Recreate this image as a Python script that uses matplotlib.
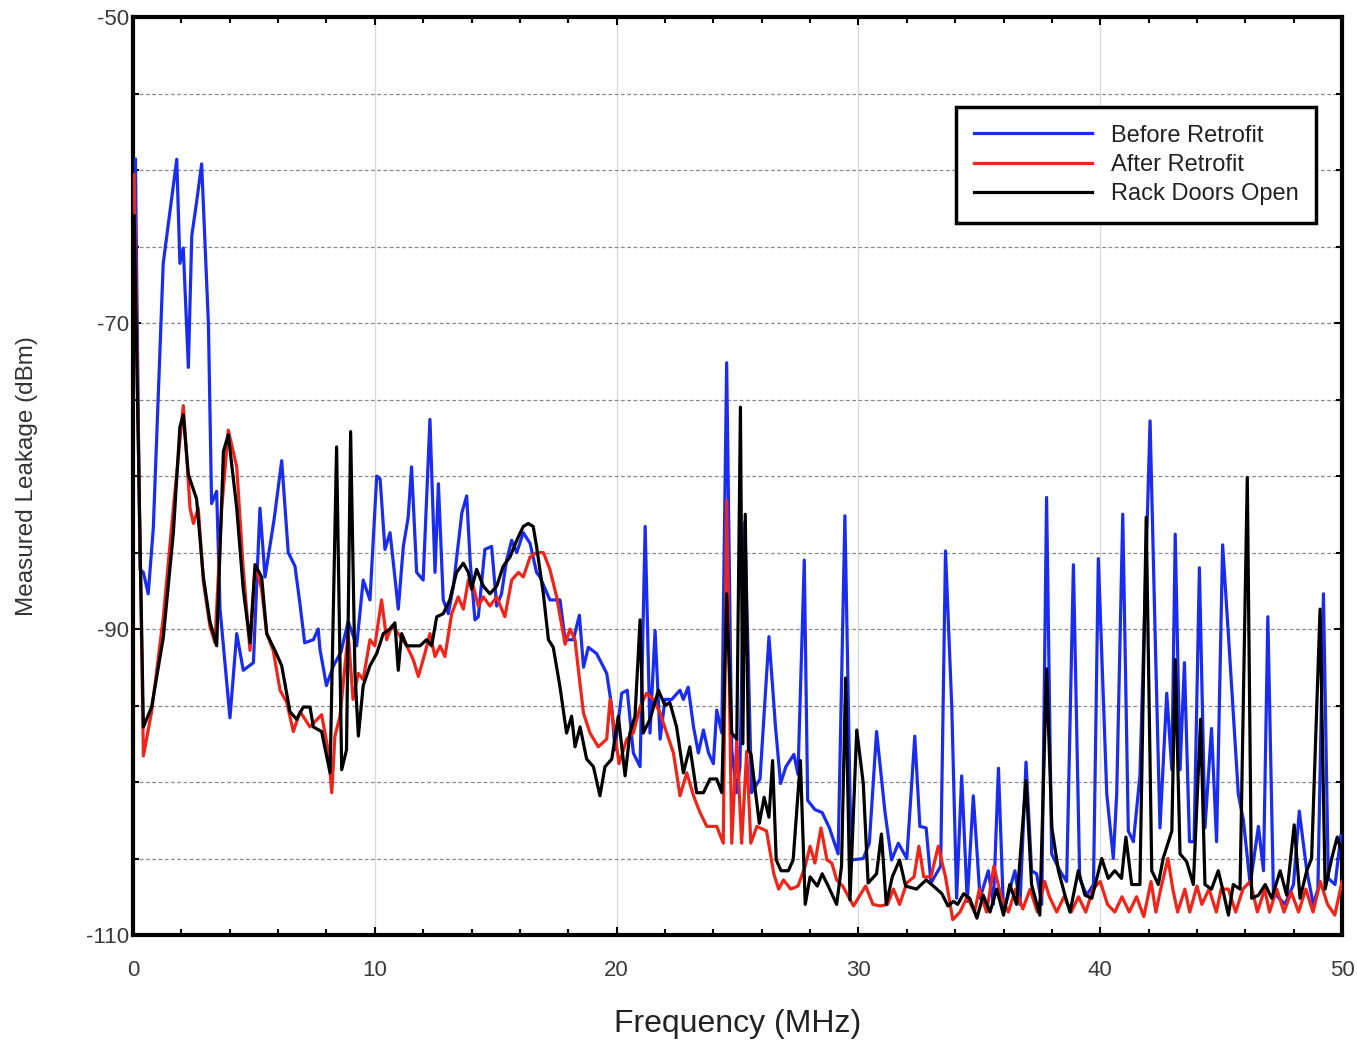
import matplotlib
matplotlib.use("Agg")
import matplotlib.pyplot as plt
from matplotlib.ticker import MultipleLocator, FixedLocator

plt.rcParams['axes.unicode_minus'] = False

# ---- Data (MHz, dBm) --------------------------------------------------
before_freq = [0.1, 0.29, 0.43, 0.63, 0.84, 1.25, 1.53, 1.81, 1.94, 2.08, 2.29, 2.43,
               2.63, 2.84, 3.12, 3.25, 3.46, 3.6, 4.01, 4.29, 4.56, 4.98, 5.25, 5.46,
               5.83, 6.15, 6.42, 6.7, 6.9, 7.1, 7.46, 7.66, 7.73, 8.0, 8.29, 8.6, 8.9,
               9.25, 9.52, 9.8, 10.08, 10.22, 10.42, 10.63, 10.83, 10.97, 11.18, 11.38,
               11.52, 11.73, 12.0, 12.28, 12.49, 12.63, 12.83, 13.04, 13.25, 13.6, 13.8,
               13.94, 14.14, 14.28, 14.55, 14.83, 15.04, 15.24, 15.45, 15.66, 15.87,
               16.14, 16.42, 16.69, 16.83, 17.24, 17.66, 17.87, 18.21, 18.46, 18.63,
               18.83, 19.17, 19.59, 19.8, 19.93, 20.21, 20.44, 20.69, 20.97, 21.18,
               21.38, 21.59, 21.8, 22.0, 22.28, 22.62, 22.76, 22.96, 23.18, 23.38,
               23.59, 23.8, 24.0, 24.14, 24.35, 24.55, 24.76, 24.97, 25.1, 25.3, 25.58,
               25.93, 26.3, 26.57, 26.78, 27.0, 27.33, 27.5, 27.76, 27.9, 28.2, 28.5,
               28.8, 29.16, 29.44, 29.7, 30.2, 30.45, 30.75, 31.1, 31.37, 31.65, 32.0,
               32.33, 32.54, 32.8, 33.0, 33.4, 33.6, 33.86, 34.06, 34.27, 34.5, 34.75,
               35.03, 35.37, 35.58, 35.79, 36.0, 36.47, 36.68, 36.93, 37.16, 37.37,
               37.58, 37.78, 37.99, 38.33, 38.61, 38.89, 39.15, 39.44, 39.72, 39.92,
               40.27, 40.54, 40.68, 40.93, 41.16, 41.37, 41.64, 42.06, 42.27, 42.47,
               42.75, 42.96, 43.1, 43.3, 43.48, 43.69, 43.88, 44.1, 44.33, 44.6, 44.81,
               45.06, 45.3, 45.71, 45.92, 46.2, 46.54, 46.75, 46.93, 47.16, 47.64,
               47.99, 48.23, 48.54, 48.81, 49.0, 49.23, 49.43, 49.71, 49.95]
before_level = [-59.3, -86.1, -86.3, -87.7, -83.4, -66.1, -62.7, -59.3, -66.1, -65.1, -72.9, -64.3,
                -62.1, -59.6, -70.1, -81.8, -81.0, -88.7, -95.8, -90.3, -92.7, -92.2, -82.1, -86.6,
                -82.9, -79.0, -85.0, -85.9, -88.3, -90.9, -90.7, -90.0, -91.3, -93.7, -92.4, -91.5, -89.5,
                -91.1, -86.8, -88.1, -80.0, -80.2, -84.8, -83.7, -86.6, -88.7, -84.6, -82.7,
                -79.4, -86.3, -86.8, -76.3, -86.3, -80.5, -88.1, -89.0, -87.2, -82.4, -81.3,
                -85.5, -89.4, -89.2, -84.8, -84.6, -88.5, -87.7, -85.5, -84.2, -85.0,
                -83.7, -84.4, -86.3, -86.6, -88.1, -88.1, -90.7, -90.7, -89.1, -92.5,
                -91.2, -91.6, -92.9, -95.1, -97.9, -94.2, -94.0, -98.1, -99.0, -83.3,
                -96.8, -90.1, -97.2, -94.6, -94.6, -94.0, -94.6, -93.8, -96.4, -98.1,
                -96.6, -98.1, -98.8, -95.3, -96.8, -72.6, -97.9, -100.7, -99.0, -83.0, -100.7,
                -99.8, -90.5, -96.4, -100.1, -99.0, -98.2, -99.5, -85.5, -101.2, -101.8, -102.0,
                -103.0, -104.7, -82.6, -105.1, -105.0, -104.0, -96.7, -102.0, -105.1, -104.0, -105.0,
                -97.0, -102.9, -103.0, -106.6, -105.5, -84.9, -95.1, -107.6, -99.6, -107.8, -100.9,
                -107.6, -105.8, -108.0, -99.1, -108.5, -105.8, -108.0, -98.7, -105.8, -106.0,
                -108.0, -81.4, -104.7, -105.8, -106.5, -85.8, -106.3, -107.4, -106.7, -85.4,
                -100.8, -105.0, -100.8, -82.5, -103.2, -103.9, -99.6, -76.4, -90.4, -103.0,
                -94.2, -99.2, -83.8, -99.2, -92.2, -103.9, -103.9, -86.0, -103.0, -96.5, -103.9,
                -84.5, -90.4, -100.8, -102.5, -106.7, -102.9, -105.8, -89.2, -107.2, -108.0,
                -106.7, -101.9, -105.8, -108.0, -107.0, -87.7, -106.3, -106.7, -103.5]

after_freq = [0.05, 0.43, 0.77, 1.25, 1.67, 2.08, 2.36, 2.5, 2.7, 2.91, 3.18, 3.39, 3.67,
              3.94, 4.29, 4.56, 4.84, 5.05, 5.32, 5.53, 5.8, 6.08, 6.36, 6.63, 6.91, 7.32,
              7.8, 8.08, 8.22, 8.35, 8.56, 8.9, 9.1, 9.32, 9.52, 9.8, 10.0, 10.28, 10.49,
              10.7, 10.97, 11.32, 11.59, 11.8, 12.07, 12.28, 12.49, 12.7, 12.9, 13.18,
              13.45, 13.66, 13.87, 14.07, 14.28, 14.49, 14.76, 15.04, 15.38, 15.66, 15.94,
              16.14, 16.42, 16.69, 16.97, 17.24, 17.52, 17.87, 18.07, 18.28, 18.42, 18.63,
              18.9, 19.24, 19.59, 19.73, 20.1, 20.42, 20.69, 20.97, 21.24, 21.52, 21.8,
              22.07, 22.35, 22.62, 22.9, 23.18, 23.45, 23.73, 24.14, 24.41, 24.55, 24.76,
              24.97, 25.17, 25.38, 25.55, 25.8, 26.2, 26.5, 26.7, 26.9, 27.2, 27.5, 27.8,
              28.0, 28.2, 28.45, 28.7, 28.9, 29.1, 29.35, 29.8, 30.1, 30.3, 30.6, 30.9,
              31.2, 31.45, 31.7, 32.0, 32.3, 32.5, 32.7, 33.0, 33.3, 33.6, 33.9, 34.2,
              34.5, 34.8, 35.0, 35.3, 35.6, 35.9, 36.2, 36.5, 36.8, 37.1, 37.4, 37.7,
              37.9, 38.2, 38.5, 38.8, 39.1, 39.4, 39.7, 40.0, 40.3, 40.6, 40.9, 41.2,
              41.5, 41.8, 42.1, 42.3, 42.5, 42.8, 43.0, 43.2, 43.5, 43.7, 44.0, 44.2,
              44.5, 44.8, 45.0, 45.3, 45.6, 45.9, 46.2, 46.5, 46.8, 47.0, 47.3, 47.6,
              47.9, 48.2, 48.5, 48.8, 49.1, 49.4, 49.7, 50.0]
after_level = [-60.3, -98.3, -95.4, -89.3, -82.1, -75.4, -82.1, -83.1, -82.1, -86.9, -89.8, -90.9, -82.1,
               -77.0, -79.4, -86.1, -91.4, -85.8, -87.4, -90.3, -91.4, -94.0, -94.8, -96.7, -95.4, -96.4,
               -95.6, -98.0, -100.7, -97.0, -95.7, -90.3, -94.6, -92.9, -93.3, -90.7, -91.1, -88.1, -90.7,
               -89.8, -90.3, -91.1, -92.0, -93.1, -91.6, -90.3, -91.8, -91.1, -91.8, -89.0,
               -87.9, -88.7, -86.8, -87.2, -88.5, -87.9, -88.5, -87.9, -89.2, -86.8, -86.3,
               -86.6, -85.3, -85.0, -85.0, -86.1, -87.9, -91.0, -90.0, -90.7, -92.7, -95.5,
               -96.8, -97.7, -97.2, -94.6, -98.8, -97.2, -96.8, -95.1, -94.2, -94.6, -95.5,
               -96.8, -98.1, -100.9, -99.4, -100.9, -102.0, -102.9, -102.9, -104.0, -81.6, -104.0,
               -97.2, -104.0, -98.0, -104.0, -102.9, -103.2, -106.0, -107.0, -106.4, -107.0, -106.8, -105.5,
               -104.2, -105.3, -103.0, -105.1, -105.3, -106.4, -106.8, -108.1, -107.3, -106.8, -108.0, -108.1,
               -108.0, -107.0, -108.0, -106.6, -106.2, -104.2, -106.2, -106.2, -104.2, -106.2, -109.0, -108.5,
               -107.5, -108.5, -107.0, -108.5, -105.5, -107.5, -108.5, -107.0, -108.3, -107.0, -108.5, -106.5,
               -107.5, -108.5, -107.5, -108.5, -107.5, -108.5, -107.0, -106.5, -108.0, -108.5, -107.5, -108.5,
               -107.5, -108.8, -106.5, -108.5, -107.0, -105.0, -107.0, -108.5, -107.0, -108.5, -106.8, -108.0,
               -107.0, -108.5, -107.0, -107.0, -108.5, -107.0, -106.5, -108.5, -107.0, -108.5, -107.0, -108.5,
               -107.2, -108.5, -107.0, -108.5, -106.5, -108.0, -108.7, -106.5]

doors_freq = [0.05, 0.43, 0.77, 1.25, 1.67, 1.94, 2.08, 2.29, 2.63, 2.91, 3.18, 3.46, 3.74,
              3.94, 4.29, 4.56, 4.84, 5.05, 5.32, 5.53, 5.87, 6.15, 6.49, 6.77, 7.04, 7.32,
              7.46, 7.8, 8.15, 8.42, 8.63, 8.83, 9.0, 9.18, 9.32, 9.52, 9.8, 10.08, 10.35,
              10.63, 10.83, 10.97, 11.11, 11.32, 11.59, 11.87, 12.14, 12.35, 12.56, 12.83,
              13.1, 13.38, 13.66, 13.87, 14.0, 14.21, 14.49, 14.76, 15.04, 15.31, 15.59,
              15.87, 16.14, 16.35, 16.55, 16.69, 16.97, 17.18, 17.38, 17.66, 17.93, 18.14,
              18.28, 18.49, 18.76, 19.04, 19.31, 19.52, 19.8, 20.07, 20.35, 20.55, 20.76,
              20.97, 21.1, 21.38, 21.73, 22.0, 22.2, 22.48, 22.76, 23.03, 23.31, 23.59,
              23.86, 24.14, 24.35, 24.55, 24.76, 24.97, 25.12, 25.22, 25.32, 25.45, 25.56,
              25.7, 25.9, 26.1, 26.3, 26.45, 26.6, 26.8, 27.1, 27.3, 27.6, 27.8, 28.0,
              28.3, 28.5, 28.75, 29.1, 29.3, 29.47, 29.65, 29.93, 30.2, 30.4, 30.75, 30.95,
              31.15, 31.4, 31.7, 31.95, 32.4, 32.8, 33.1, 33.45, 33.7, 33.93, 34.1, 34.35,
              34.6, 34.9, 35.16, 35.44, 35.72, 36.0, 36.26, 36.54, 36.93, 37.16, 37.5,
              37.78, 38.0, 38.27, 38.54, 38.75, 39.09, 39.37, 39.65, 40.06, 40.33, 40.6,
              40.88, 41.06, 41.3, 41.64, 41.9, 42.13, 42.4, 42.6, 42.96, 43.1, 43.3,
              43.57, 43.85, 44.15, 44.33, 44.6, 44.88, 45.09, 45.3, 45.5, 45.78, 46.08,
              46.26, 46.54, 46.82, 47.09, 47.44, 47.71, 48.02, 48.26, 48.54, 48.74, 49.09,
              49.3, 49.57, 49.8, 49.97]
doors_level = [-63.0, -96.4, -95.1, -90.6, -83.7, -76.8, -76.0, -79.9, -81.5, -86.6, -89.5, -91.1, -78.4,
               -77.3, -82.1, -87.4, -90.9, -85.8, -86.6, -90.3, -91.4, -92.4, -95.4, -95.9, -95.1, -95.1,
               -96.4, -96.7, -99.4, -78.1, -99.2, -97.9, -77.1, -92.9, -97.0, -93.7, -92.4, -91.6, -90.3,
               -90.0, -89.6, -92.7, -90.3, -91.1, -91.1, -91.1, -90.7, -91.1, -89.2, -89.0,
               -88.1, -86.3, -85.7, -86.3, -87.4, -86.1, -87.2, -87.7, -87.2, -85.9, -85.3,
               -84.2, -83.3, -83.1, -83.3, -84.6, -87.7, -90.7, -91.2, -93.8, -96.8, -95.7,
               -97.7, -96.4, -98.5, -99.0, -100.9, -99.0, -98.5, -95.7, -99.6, -96.8, -95.7,
               -89.4, -96.8, -95.9, -94.0, -95.0, -94.8, -96.4, -99.4, -97.7, -100.7, -100.7,
               -99.8, -99.8, -100.7, -87.7, -96.8, -97.2, -75.5, -97.5, -82.5, -97.9, -98.2,
               -100.1, -102.7, -101.0, -102.3, -98.6, -105.1, -105.8, -105.8, -105.1, -98.6, -108.0, -106.2,
               -106.8, -106.0, -106.8, -108.0, -105.5, -93.2, -107.7, -96.6, -100.1, -106.6, -106.0, -103.4,
               -108.0, -106.2, -105.1, -106.8, -107.0, -106.4, -106.8, -107.3, -108.1, -107.8, -108.0, -107.3,
               -107.6, -108.9, -107.4, -108.5, -107.0, -108.7, -106.7, -108.0, -99.9, -106.7, -108.7,
               -92.6, -103.0, -105.8, -107.4, -108.5, -105.8, -107.4, -107.6, -105.0, -106.3, -105.8,
               -106.3, -103.6, -106.7, -106.7, -82.7, -105.8, -106.7, -105.0, -103.2, -92.0, -104.7,
               -105.2, -106.7, -95.9, -106.7, -107.0, -105.8, -107.2, -108.7, -106.7, -107.0, -80.1,
               -107.6, -107.4, -106.7, -107.6, -105.8, -107.4, -102.8, -107.6, -105.8, -105.0, -88.7,
               -107.0, -105.0, -103.6, -104.5]

series_labels = ["Before Retrofit", "After Retrofit", "Rack Doors Open"]
series_colors = ["#1a2cf0", "#f02418", "#000000"]
y_label_ticks = [-110, -90, -70, -50]

# ---- Plot ---------------------------------------------------------------
fig = plt.figure(figsize=(13.57, 10.44), dpi=100)
ax = fig.add_axes([0.098, 0.1044, 0.891, 0.8793])

for fx, lv, lab, col in zip([before_freq, after_freq, doors_freq],
                            [before_level, after_level, doors_level],
                            series_labels, series_colors):
    ax.plot(fx, lv, color=col, linewidth=2.3, label=lab, zorder=3)

ax.set_xlim(0, 50)
ax.set_ylim(-110, -50)

ax.xaxis.set_major_locator(MultipleLocator(10))
ax.xaxis.set_minor_locator(MultipleLocator(2))
ax.yaxis.set_major_locator(FixedLocator(y_label_ticks))
ax.yaxis.set_minor_locator(MultipleLocator(5))

ax.grid(True, which='major', axis='x', color='#d8d8d8', linewidth=0.9, linestyle='-')
ax.grid(True, which='both', axis='y', color='#8a8a8a', linewidth=0.9, linestyle=(0, (3, 2)))
ax.set_axisbelow(True)

for s in ax.spines.values():
    s.set_linewidth(3)
    s.set_color('black')

tick_font = ['Liberation Sans Narrow', 'Liberation Sans', 'DejaVu Sans']
ax.tick_params(which='both', direction='in', top=True, right=True, width=1.5,
               colors='black', labelcolor='#3a3a3a', labelsize=16)
ax.tick_params(which='major', length=6)
ax.tick_params(which='minor', length=4)
ax.tick_params(axis='x', pad=18)
ax.tick_params(axis='y', pad=3)
for lbl in ax.get_xticklabels() + ax.get_yticklabels():
    lbl.set_family(tick_font)

ax.set_xlabel("Frequency (MHz)", fontsize=23, color='#222222', family=tick_font)
ax.xaxis.set_label_coords(0.5, -0.097)
ax.xaxis.label.set_va('center')
ax.set_ylabel("Measured Leakage (dBm)", fontsize=17.5, color='#333333', family=tick_font)
ax.yaxis.set_label_coords(-0.088, 0.5)
ax.yaxis.label.set_va('center')

leg = ax.legend(loc='upper right', bbox_to_anchor=(0.9785, 0.902), borderaxespad=0,
                fancybox=False, framealpha=1, edgecolor='black', handlelength=5.0,
                handletextpad=0.8, labelspacing=0.3, borderpad=0.75,
                prop={'family': tick_font, 'size': 17})
leg.get_frame().set_linewidth(2.5)
for t in leg.get_texts():
    t.set_color('#222222')

fig.savefig("out.png", dpi=100)
